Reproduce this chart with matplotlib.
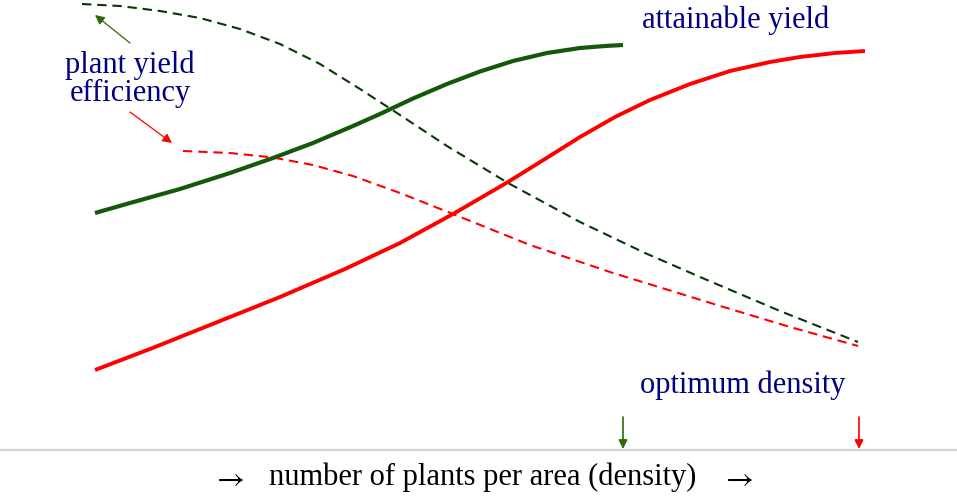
import matplotlib
matplotlib.use("Agg")
import matplotlib.pyplot as plt

green_yield_x = [95, 130, 180, 230, 273, 313, 353, 380, 413, 447, 480, 513, 547, 580, 605, 623]
green_yield_y = [213, 203, 189, 173, 158, 143, 126, 114, 98.5, 84, 71.5, 61, 53, 48, 46, 45]

red_yield_x = [95, 150, 210, 280, 345, 400, 453, 508, 545, 580, 615, 650, 690, 730, 770, 800, 835, 865]
red_yield_y = [370, 349, 325, 297, 269, 243, 214, 182, 159, 137, 117, 100, 84, 71, 62, 57, 53, 51]

green_eff_x = [82, 120, 160, 200, 240, 280, 320, 360, 400, 447, 508, 580, 645, 707, 780, 858]
green_eff_y = [4, 6, 11, 18, 29, 44, 64, 89, 115, 146, 183, 222, 253, 280, 311, 342]

red_eff_x = [183, 230, 273, 313, 353, 400, 453, 530, 613, 675, 717, 790, 858]
red_eff_y = [151, 153, 157.5, 165, 176, 193, 214, 245, 273, 292, 305, 327, 346]

optimum_x = [623, 859]

GREEN = "#15580a"
DKGREEN = "#063806"
ARROW_GREEN = "#2d6a0a"
RED = "#ff0000"
NAVY = "#000080"

plt.rcParams['font.family'] = ['Liberation Serif', 'DejaVu Serif']
plt.rcParams['mathtext.fontset'] = 'stix'

fig = plt.figure(figsize=(9.57, 5.0), dpi=100)
ax = fig.add_axes([0, 0, 1, 1])
ax.set_xlim(0, 957)
ax.set_ylim(500, 0)
ax.axis('off')

ax.plot(green_eff_x, green_eff_y, color=DKGREEN, lw=1.5, ls=(0, (4.5, 2.8)))
ax.plot(red_eff_x, red_eff_y, color=RED, lw=1.5, ls=(0, (4.5, 2.8)))
ax.plot(green_yield_x, green_yield_y, color=GREEN, lw=3.0, solid_capstyle='butt',
        solid_joinstyle='round')
ax.plot(red_yield_x, red_yield_y, color=RED, lw=2.8, solid_capstyle='butt',
        solid_joinstyle='round')

# baseline
ax.axhline(450, color="#d3d3d3", lw=1.6)

# annotation arrows for efficiency
ax.annotate("", xy=(95, 15), xytext=(130, 43),
            arrowprops=dict(arrowstyle="-|>", color=ARROW_GREEN, lw=0.9, mutation_scale=14,
                            shrinkA=0, shrinkB=0))
ax.annotate("", xy=(172, 143), xytext=(130, 112),
            arrowprops=dict(arrowstyle="-|>", color=RED, lw=0.9, mutation_scale=14,
                            shrinkA=0, shrinkB=0))

# optimum density arrows
for xo, col in zip(optimum_x, [ARROW_GREEN, RED]):
    ax.annotate("", xy=(xo, 449), xytext=(xo, 417),
                arrowprops=dict(arrowstyle="-|>", color=col, lw=1.2, mutation_scale=13,
                                shrinkA=0, shrinkB=0))

ax.text(130, 79, "plant yield\nefficiency", color=NAVY, fontsize=22, ha='center', va='center',
        linespacing=0.95)
ax.text(736, 20, "attainable yield", color=NAVY, fontsize=22, ha='center', va='center')
ax.text(743, 385, "optimum density", color=NAVY, fontsize=22, ha='center', va='center')
ax.text(228, 479, r"$\rightarrow$", color="black", fontsize=22, ha='center', va='center')
ax.text(483, 477, "number of plants per area (density)", color="black",
        fontsize=22, ha='center', va='center')
ax.text(737, 479, r"$\rightarrow$", color="black", fontsize=22, ha='center', va='center')

fig.savefig("out.png", dpi=100)
